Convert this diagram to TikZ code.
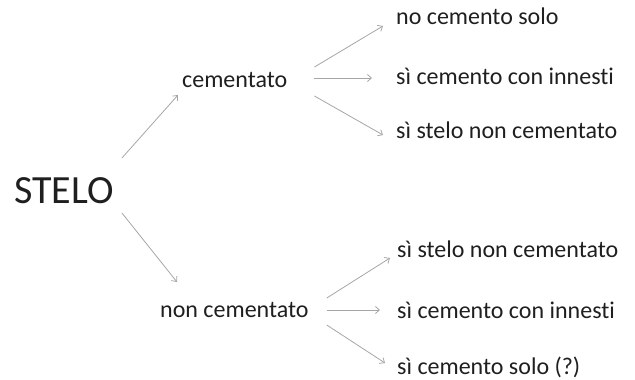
\documentclass[tikz,border=0pt]{standalone}
\usepackage{fontspec}
\setmainfont{Carlito}[Ligatures=NoCommon]
\usetikzlibrary{arrows.meta}
\begin{document}
\begin{tikzpicture}[x=1pt,y=-1pt,
  lbl/.style={anchor=base west,inner sep=0pt,text=black!88,font=\fontsize{24}{28}\selectfont},
  big/.style={anchor=base west,inner sep=0pt,text=black!88,font=\fontsize{40}{48}\selectfont},
  arr/.style={draw=black!35,line width=0.8pt,-{Straight Barb[length=4pt,width=7pt]}}]
\useasboundingbox (0,0) rectangle (635,380);
\node[big] (stelo) at (14,203) {STELO};
\node[lbl] (cem) at (182,87) {cementato};
\node[lbl] (ncem) at (160,317) {non cementato};
\node[lbl] (r1) at (396,24) {no cemento solo};
\node[lbl] (r2) at (396,84) {sì cemento con innesti};
\node[lbl] (r3) at (396,138) {sì stelo non cementato};
\node[lbl] (r4) at (397,257) {sì stelo non cementato};
\node[lbl] (r5) at (397,318) {sì cemento con innesti};
\node[lbl] (r6) at (397,374) {sì cemento solo (?)};
\draw[arr] ([shift={(8,-45)}]stelo.base east) -- ([shift={(-4,8)}]cem.base west);
\draw[arr] ([shift={(8,10)}]stelo.base east) -- ([shift={(17,-35)}]ncem.base west);
\draw[arr] ([shift={(27,-20)}]cem.base east) -- ([shift={(-13,2)}]r1.base west);
\draw[arr] ([shift={(27,-9)}]cem.base east) -- ([shift={(-24,-6)}]r2.base west);
\draw[arr] ([shift={(27,9)}]cem.base east) -- ([shift={(-13,-3)}]r3.base west);
\draw[arr] ([shift={(18,-19)}]ncem.base east) -- ([shift={(-7,1)}]r4.base west);
\draw[arr] ([shift={(18,-7)}]ncem.base east) -- ([shift={(-17,-8)}]r5.base west);
\draw[arr] ([shift={(18,8)}]ncem.base east) -- ([shift={(-12,-11)}]r6.base west);
\end{tikzpicture}
\end{document}
